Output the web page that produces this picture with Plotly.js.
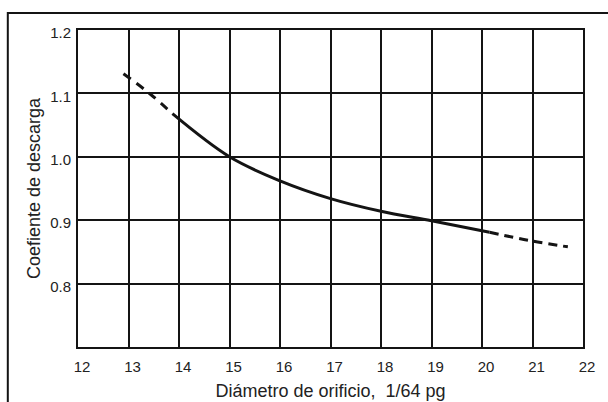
<!DOCTYPE html>
<html>
<head>
<meta charset="utf-8">
<script src="https://cdn.plot.ly/plotly-3.0.1.min.js"></script>
<style>
  html, body { margin: 0; padding: 0; background: #fff; }
  #chart { width: 608px; height: 402px; }
</style>
</head>
<body>
<div id="chart"></div>
<script>
// Discharge coefficient vs. orifice diameter (1/64 in)
// Extrapolated ends are dashed, measured range is solid.
const diamDashStart = [12.9, 13.4, 13.87];
const coefDashStart = [1.131, 1.101, 1.068];

const diamSolid = [13.87, 15, 16, 17, 18, 19, 20.15];
const coefSolid = [1.068, 1.0, 0.962, 0.934, 0.914, 0.899, 0.881];

const diamDashEnd = [20.15, 21, 21.7];
const coefDashEnd = [0.881, 0.867, 0.858];

const xTicks = [12, 13, 14, 15, 16, 17, 18, 19, 20, 21, 22];
const yTicks = [0.8, 0.9, 1.0, 1.1, 1.2];

const ink = '#141414';
const fontFamily = 'Liberation Sans, Arial, sans-serif';

const lineBase = { mode: 'lines', hoverinfo: 'skip', showlegend: false };

const traces = [
  Object.assign({}, lineBase, {
    x: diamDashStart, y: coefDashStart,
    line: { color: ink, width: 3, dash: '9px,7px', shape: 'spline' }
  }),
  Object.assign({}, lineBase, {
    x: diamSolid, y: coefSolid,
    line: { color: ink, width: 3, shape: 'spline', smoothing: 1 }
  }),
  Object.assign({}, lineBase, {
    x: diamDashEnd, y: coefDashEnd,
    line: { color: ink, width: 3, dash: '9px,6px', shape: 'spline' }
  })
];

const layout = {
  width: 608,
  height: 402,
  margin: { l: 78, r: 25, t: 30, b: 55 },
  paper_bgcolor: '#fff',
  plot_bgcolor: '#fff',
  font: { family: fontFamily, color: '#222', size: 14 },
  xaxis: {
    range: [12, 22],
    tickvals: xTicks,
    ticktext: xTicks.map(String),
    showgrid: true, gridcolor: ink, gridwidth: 2,
    showline: true, linecolor: ink, linewidth: 2, mirror: true,
    zeroline: false,
    ticks: 'outside', ticklen: 5, tickcolor: 'rgba(0,0,0,0)',
    ticklabelshift: 4,
    tickfont: { size: 15, color: '#222' },
    title: { text: 'Diámetro de orificio,  1/64 pg', font: { size: 18, color: '#222' }, standoff: 10 }
  },
  yaxis: {
    range: [0.7, 1.2],
    tickvals: yTicks,
    ticktext: yTicks.map(v => v.toFixed(1)),
    showgrid: true, gridcolor: ink, gridwidth: 2,
    showline: true, linecolor: ink, linewidth: 2, mirror: true,
    zeroline: false,
    ticks: 'outside', ticklen: 2, tickcolor: 'rgba(0,0,0,0)',
    ticklabelshift: 3,
    tickfont: { size: 15, color: '#222' },
    title: { text: 'Coefiente de descarga', font: { size: 18, color: '#222' }, standoff: 5 }
  },
  shapes: [{
    type: 'rect', xref: 'paper', yref: 'paper',
    x0: -0.139, x1: 1.2, y0: -0.5, y1: 1.054,
    line: { color: ink, width: 2 }, fillcolor: 'rgba(0,0,0,0)', layer: 'below'
  }]
};

Plotly.newPlot('chart', traces, layout, { displayModeBar: false, staticPlot: true });
</script>
</body>
</html>
